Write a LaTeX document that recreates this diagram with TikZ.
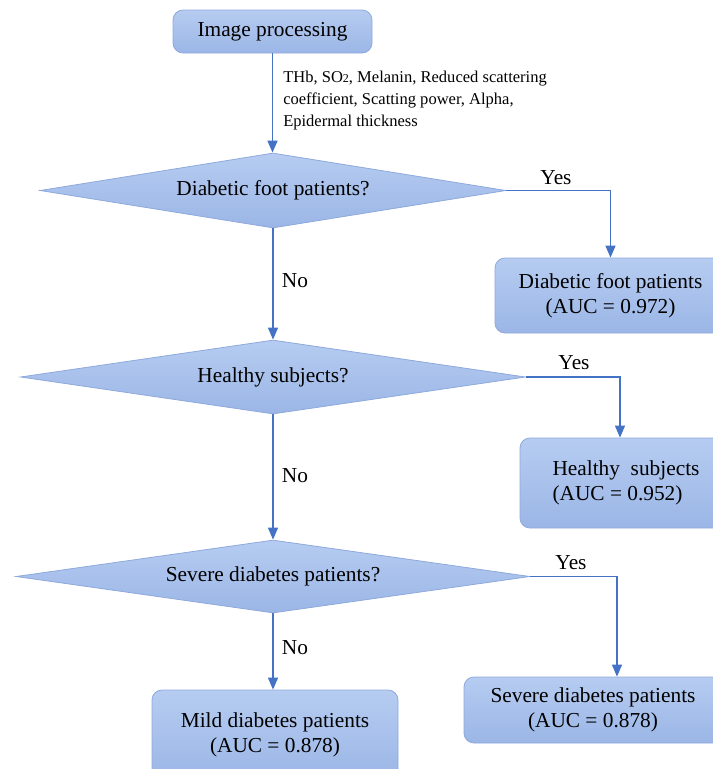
\documentclass[tikz,border=0pt]{standalone}
\usepackage{fontspec}
\setmainfont{Liberation Serif}
\newfontfamily\chartfont{Liberation Serif}
\usetikzlibrary{shapes.geometric,arrows.meta}
\definecolor{boxtop}{HTML}{B6CCF1}
\definecolor{boxbot}{HTML}{9BB6E6}
\definecolor{boxline}{HTML}{8EA9DC}
\definecolor{flowline}{HTML}{4472C4}
\newcommand{\bigtxt}{\chartfont\fontsize{16}{19}\selectfont}
\tikzset{
	box/.style={rounded corners=7.5pt, draw=boxline, line width=0.6pt, top color=boxtop, bottom color=boxbot, align=center, inner sep=0pt, font=\bigtxt},
	decision/.style={diamond, aspect=6, draw=boxline, line width=0.6pt, top color=boxtop, bottom color=boxbot, inner sep=0pt, font=\bigtxt},
	flow/.style={draw=flowline, line width=1pt, -{Triangle[width=7.5pt,length=9pt]}},
	answer/.style={inner sep=0pt, font=\bigtxt},
}

\begin{document}
\begin{tikzpicture}[x=0.75pt, y=-0.75pt]
		%%%%% START %%%%%
		\useasboundingbox (0, 0) rectangle (713, 769);
		
		\node[box, minimum width=149.25pt, minimum height=32.25pt] (img) at (272.5, 31.5) {Image processing};
		\node[anchor=west, align=left, inner sep=0pt, font=\chartfont\fontsize{12.4}{16.5}\selectfont] (params) at (283, 101)
			{THb, SO{\fontsize{9}{9}\selectfont 2}, Melanin, Reduced scattering\\coefficient, Scatting power, Alpha,\\Epidermal thickness};
		
		\node[decision, minimum width=349.5pt, minimum height=56.25pt] (foot) at (273, 190.5) {Diabetic foot patients?};
		\node[box, minimum width=173.25pt, minimum height=56.25pt] (footres) at (610.5, 295.5) {Diabetic foot patients\\(AUC = 0.972)};
		
		\node[decision, minimum width=378.75pt, minimum height=55.5pt] (healthy) at (273, 377) {Healthy subjects?};
		\node[box, align=left, minimum width=159pt, minimum height=67.5pt] (healthyres) at (626, 483) {Healthy\ \ subjects\\(AUC = 0.952)};
		
		\node[decision, minimum width=385.5pt, minimum height=54.75pt] (severe) at (273, 576.5) {Severe diabetes patients?};
		\node[box, minimum width=193.5pt, minimum height=49.5pt] (severeres) at (593, 710) {Severe diabetes patients\\(AUC = 0.878)};
		\node[box, minimum width=184.5pt, minimum height=67.5pt] (mild) at (275, 735) {Mild diabetes patients\\(AUC = 0.878)};
		
		% connectors
		\draw[flow] (img.south) -- (img.south |- foot.north);
		\draw[flow] (foot.east) -| (footres.north);
		\draw[flow] (foot.south) -- (foot.south |- healthy.north);
		\draw[flow] (healthy.east) -| ([xshift=-4.5pt]healthyres.north);
		\draw[flow] (healthy.south) -- (healthy.south |- severe.north);
		\draw[flow] (severe.east) -| ([xshift=18pt]severeres.north);
		\draw[flow] (severe.south) -- (severe.south |- mild.north);
		
		\node[answer] (yes1) at (556, 178) {Yes};
		\node[answer] (yes2) at (574, 363) {Yes};
		\node[answer] (yes3) at (571, 563) {Yes};
		\node[answer] (no1) at (295, 281) {No};
		\node[answer] (no2) at (295, 476) {No};
		\node[answer] (no3) at (295, 648) {No};
		
		%%%%% END %%%%%
	\end{tikzpicture}
\end{document}
